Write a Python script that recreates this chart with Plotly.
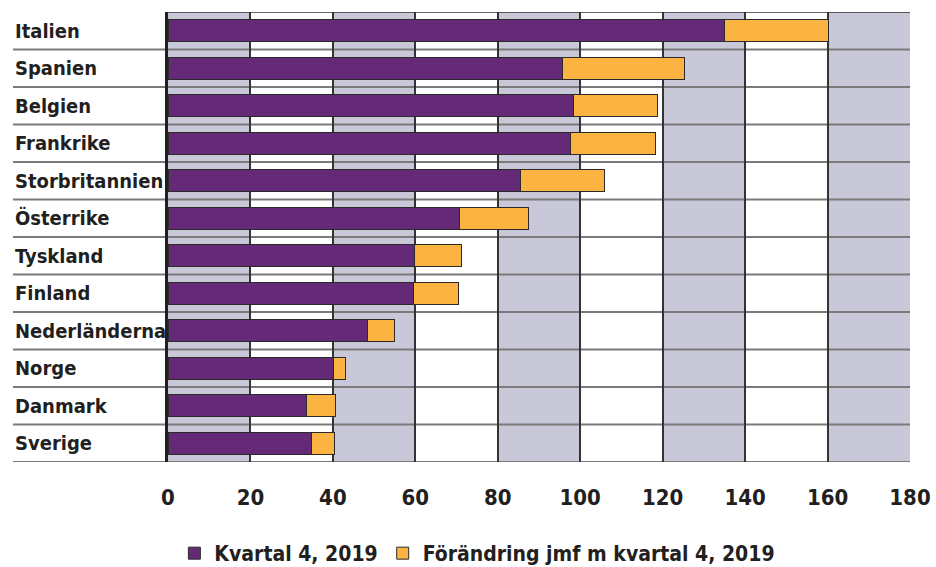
import plotly.graph_objects as go

countries = ["Italien", "Spanien", "Belgien", "Frankrike", "Storbritannien", "Österrike",
             "Tyskland", "Finland", "Nederländerna", "Norge", "Danmark", "Sverige"]
kvartal = [135.0, 95.7, 98.3, 97.7, 85.4, 70.6, 59.8, 59.6, 48.5, 40.2, 33.6, 34.9]
forandring = [25.3, 29.7, 20.5, 20.6, 20.5, 16.9, 11.4, 10.8, 6.5, 2.8, 7.1, 5.4]
x_ticks = [0, 20, 40, 60, 80, 100, 120, 140, 160, 180]
series_names = ["Kvartal 4, 2019", "Förändring jmf m kvartal 4, 2019"]

FONT = "DejaVu Sans Condensed, DejaVu Sans, sans-serif"
TXT = "#231f20"
PURPLE = "#642a78"
ORANGE = "#fbb342"
BAND = "#c8c8d8"

ypos = list(range(len(countries)))

fig = go.Figure()
fig.add_trace(go.Bar(y=ypos, x=kvartal, orientation="h", name=series_names[0],
                     marker=dict(color=PURPLE, line=dict(color="#2a2a2a", width=1)),
                     width=0.58))
fig.add_trace(go.Bar(y=ypos, x=forandring, orientation="h", name=series_names[1],
                     marker=dict(color=ORANGE, line=dict(color="#2a2a2a", width=1)),
                     width=0.58))

shapes = []
# alternating background bands
for i in range(0, len(x_ticks) - 1, 2):
    shapes.append(dict(type="rect", xref="x", yref="paper", x0=x_ticks[i], x1=x_ticks[i + 1],
                       y0=0, y1=1, fillcolor=BAND, line=dict(width=0), layer="below"))
# row separators (extend under the labels)
L = 168
R = 910
W = R - L
left_paper = (13 - L) / W
for i in range(len(countries)):
    shapes.append(dict(type="line", xref="paper", yref="y", x0=left_paper, x1=1,
                       y0=i + 0.5, y1=i + 0.5, line=dict(color="#7a7a7a", width=2), layer="below"))
shapes.append(dict(type="line", xref="paper", yref="y", x0=0, x1=1,
                   y0=-0.5, y1=-0.5, line=dict(color="#333333", width=1.5), layer="below"))

annotations = []
for i, c in enumerate(countries):
    annotations.append(dict(xref="paper", yref="y", x=left_paper, y=i, text=c, showarrow=False,
                            xanchor="left", yanchor="middle",
                            font=dict(family=FONT, size=20, color=TXT, weight="bold")))

fig.update_layout(
    width=936, height=567,
    barmode="stack",
    plot_bgcolor="white", paper_bgcolor="white",
    margin=dict(l=L, r=936 - R, t=12, b=567 - 462, autoexpand=False),
    shapes=shapes,
    annotations=annotations,
    legend=dict(orientation="h", xref="container", yref="container", x=0.51, y=1 - 533 / 567,
                xanchor="center", yanchor="top", traceorder="normal",
                font=dict(family=FONT, size=21, color=TXT, weight="bold"),
                itemwidth=30, tracegroupgap=0),
    font=dict(family=FONT, color=TXT),
)
fig.update_xaxes(range=[0, 180], tickvals=x_ticks, showgrid=True, gridcolor="#333333", gridwidth=1.5,
                 zeroline=False, ticks="", ticklabelstandoff=20, automargin=False,
                 tickfont=dict(family=FONT, size=22, color=TXT, weight="bold"), layer="below traces")
fig.update_yaxes(range=[len(countries) - 0.5, -0.5], tickvals=ypos, showticklabels=False,
                 showgrid=False, zeroline=False, showline=True, linecolor=TXT, linewidth=3,
                 ticks="", automargin=False)

fig.write_html("out.html", post_script="document.body.style.margin='0';",
               config={"displayModeBar": False})
